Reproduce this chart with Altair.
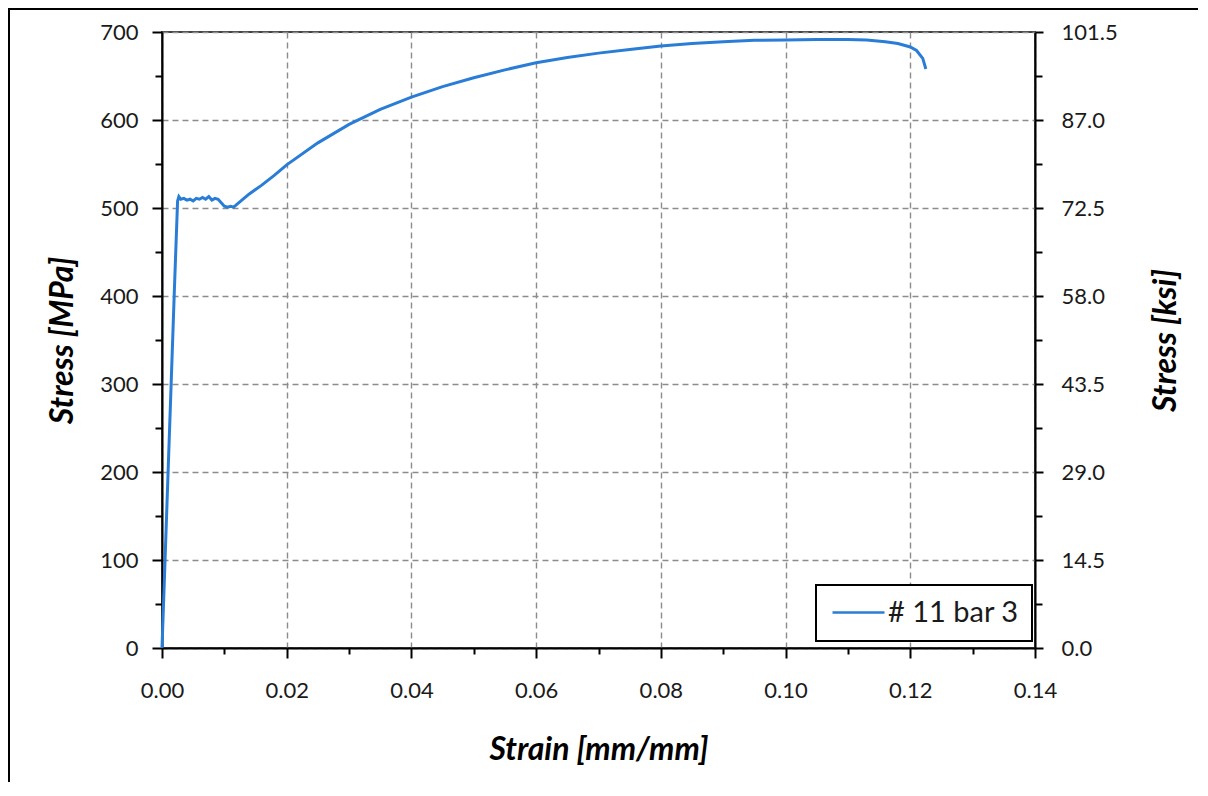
import altair as alt
import pandas as pd

series_name = "# 11 bar 3"

strain = [0.0, 0.0005, 0.0010, 0.0015, 0.0020, 0.0025, 0.0027, 0.0030, 0.0035, 0.0040,
          0.0045, 0.0050, 0.0055, 0.0060, 0.0065, 0.0070, 0.0075, 0.0080, 0.0085, 0.0090,
          0.0095, 0.0100, 0.0105, 0.0110, 0.0115, 0.0120, 0.0130, 0.0140, 0.0160, 0.0180,
          0.0200, 0.0250, 0.0300, 0.0350, 0.0400, 0.0450, 0.0500, 0.0550, 0.0600, 0.0650,
          0.0700, 0.0750, 0.0800, 0.0850, 0.0900, 0.0950, 0.1000, 0.1050, 0.1100, 0.1130,
          0.1160, 0.1180, 0.1200, 0.1210, 0.1220, 0.1225]
stress = [0, 102, 205, 307, 410, 508, 513, 510, 511, 509,
          510, 508, 511, 510, 512, 510, 513, 509, 511, 510,
          506, 502, 501, 502, 501, 504, 510, 516, 526, 537,
          549, 574, 595, 612, 626, 638, 648, 657, 665, 671,
          676, 680, 684, 687, 689, 690.5, 691, 691.5, 691.5, 691,
          689, 687, 683, 679, 670, 658]

x_ticks = [0.00, 0.01, 0.02, 0.03, 0.04, 0.05, 0.06, 0.07, 0.08, 0.09, 0.10, 0.11, 0.12, 0.13, 0.14]
y_ticks = [0, 50, 100, 150, 200, 250, 300, 350, 400, 450, 500, 550, 600, 650, 700]

df = pd.DataFrame({"strain": strain, "stress": stress, "series": series_name})

FONT = "Lato"
x_major = "round(datum.value * 100) % 2 === 0"
y_major = "datum.value % 100 === 0"

yscale = alt.Scale(domain=[0, 700], nice=False, zero=False)
xscale = alt.Scale(domain=[0, 0.14], nice=False, zero=False)

x_axis = alt.Axis(
    values=x_ticks, orient="bottom", title="Strain [mm/mm]",
    labelExpr=f"{x_major} ? format(datum.value, '.2f') : ''",
    tickSize={"condition": {"test": x_major, "value": 10}, "value": 6},
    gridOpacity={"condition": {"test": x_major, "value": 1}, "value": 0},
    grid=True, labelPadding=22, titlePadding=33, labelFlush=False, labelOverlap=False,
)
left_axis = alt.Axis(
    values=y_ticks, orient="left", title="Stress [MPa]",
    labelExpr=f"{y_major} ? format(datum.value, 'd') : ''",
    tickSize={"condition": {"test": y_major, "value": 10}, "value": 7},
    gridOpacity={"condition": {"test": y_major, "value": 1}, "value": 0},
    grid=True, labelPadding=14, titlePadding=20, labelFlush=False, labelOverlap=False,
)
right_axis = alt.Axis(
    values=y_ticks, orient="right", title="Stress [ksi]", titleAngle=270,
    labelExpr=f"{y_major} ? format(datum.value * 145 / 1000, '.1f') : ''",
    tickSize={"condition": {"test": y_major, "value": 8}, "value": 7},
    grid=False, labelPadding=18, titlePadding=65, labelFlush=False, labelOverlap=False,
)

border = alt.Chart(pd.DataFrame({"a": [0]})).mark_rect(
    fillOpacity=0, stroke="#000000", strokeWidth=2
).encode(
    x=alt.value(-153), x2=alt.value(1037), y=alt.value(-23), y2=alt.value(790)
)

line = alt.Chart(df).mark_line(strokeWidth=3).encode(
    x=alt.X("strain:Q", scale=xscale, axis=x_axis),
    y=alt.Y("stress:Q", scale=yscale, axis=left_axis),
    color=alt.Color(
        "series:N",
        scale=alt.Scale(domain=[series_name], range=["#2a7dd6"]),
        legend=alt.Legend(
            title=None, orient="none", legendX=654, legendY=553,
            symbolType="M-2,0H2", symbolSize=676, symbolStrokeWidth=2.5,
            symbolOffset=15, labelOffset=15,
            labelFontSize=29, labelFont=FONT, labelColor="#1a1a1a",
            padding=13,
        ),
    ),
)

right = alt.Chart(df).mark_point(opacity=0).encode(
    y=alt.Y("stress:Q", scale=yscale, axis=right_axis)
)

chart = alt.layer(border, line, right).resolve_axis(y="independent").properties(
    width=873, height=616,
    padding={"left": 154, "top": 24, "right": 163, "bottom": 134},
    autosize=alt.AutoSizeParams(type="none"),
    background="white",
).configure_view(
    stroke="#444444", strokeWidth=2
).configure_axis(
    domainColor="#000000", domainWidth=2, tickColor="#000000", tickWidth=2,
    labelFont=FONT, labelFontSize=22, labelColor="#1a1a1a",
    titleFont=FONT, titleFontSize=32, titleFontWeight="bold", titleFontStyle="italic",
    titleColor="#000000",
    gridColor="#8c8c8c", gridDash=[6, 4], gridWidth=1.4,
).configure_legend(
    strokeColor="#000000", strokeWidth=2, fillColor="white",
)

chart.save("out.html", embed_options={"renderer": "svg", "actions": False})
